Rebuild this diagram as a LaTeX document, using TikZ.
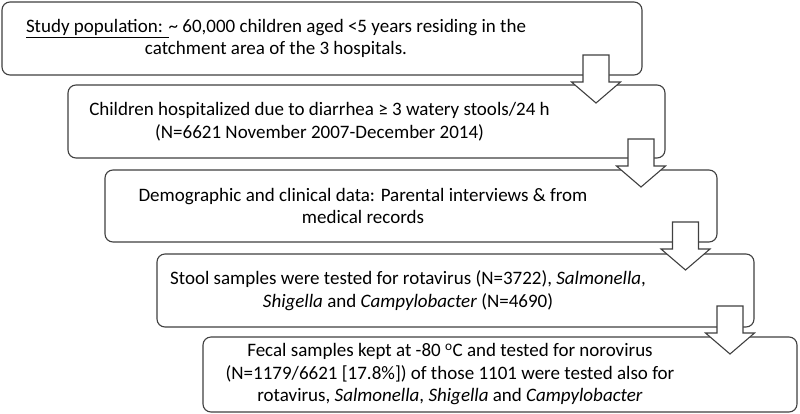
\documentclass[tikz,border=0pt]{standalone}
\usepackage{fontspec}
\setmainfont{Carlito}
\definecolor{edge}{HTML}{404040}
\newcommand{\blockarrow}[3]{% name, center x, stem top y
  \coordinate (#1) at (#2,#3);
  \draw[barrow] ([xshift=-13pt]#1) -- ([xshift=13pt]#1)
    -- ([xshift=13pt,yshift=-27pt]#1) -- ([xshift=24.5pt,yshift=-27pt]#1)
    -- ([yshift=-48pt]#1) -- ([xshift=-24.5pt,yshift=-27pt]#1)
    -- ([xshift=-13pt,yshift=-27pt]#1) -- cycle;}
\begin{document}
\begin{tikzpicture}[x=1pt,y=-1pt,
  box/.style={draw=edge, line width=1.1pt, rounded corners=8pt, fill=white, inner sep=0pt},
  txt/.style={align=center, inner sep=0pt, font=\fontsize{19}{22.5}\selectfont, text=black},
  barrow/.style={draw=edge, line width=1.1pt, fill=white, line join=miter}]
\useasboundingbox[fill=white] (0,0) rectangle (800,413);
\node[box, minimum width=640pt, minimum height=73pt] (b1) at (322,38.5) {};
\node[box, minimum width=597pt, minimum height=73pt] (b2) at (366.5,121.5) {};
\node[box, minimum width=612pt, minimum height=72pt] (b3) at (411,206) {};
\node[box, minimum width=597pt, minimum height=73pt] (b4) at (455.5,290.5) {};
\node[box, minimum width=594pt, minimum height=75pt] (b5) at (500,374.5) {};
\node[txt] (t1) at (276,38.5) {\underline{Study population: }\textasciitilde{} 60,000 children aged <5 years residing in the\\catchment area of the 3 hospitals.};
\node[txt] (t2) at (319.5,121.5) {Children hospitalized due to diarrhea ≥ 3 watery stools/24 h\\(N=6621 November 2007-December 2014)};
\node[txt] (t3) at (363,206) {Demographic and clinical data: Parental interviews \& from\\medical records};
\node[txt] (t4) at (408,290.5) {Stool samples were tested for rotavirus (N=3722), \textit{Salmonella},\\\textit{Shigella} and \textit{Campylobacter} (N=4690)};
\node[txt] (t5) at (450,374.5) {Fecal samples kept at -80 \textsuperscript{o}C and tested for norovirus\\(N=1179/6621 [17.8\%]) of those 1101 were tested also for\\rotavirus, \textit{Salmonella}, \textit{Shigella} and \textit{Campylobacter}};
\blockarrow{a1}{596}{55}
\blockarrow{a2}{641}{139}
\blockarrow{a3}{685.5}{222}
\blockarrow{a4}{730}{306}
\end{tikzpicture}
\end{document}
